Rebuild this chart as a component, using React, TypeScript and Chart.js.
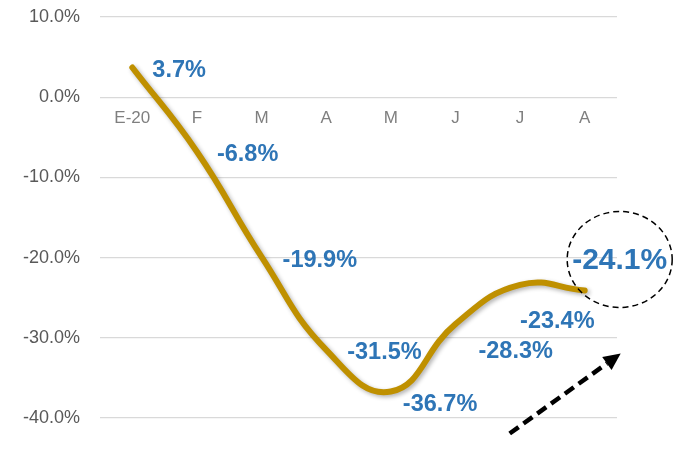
import React, { useEffect, useRef } from "react";
import { Chart, registerables } from "chart.js";

Chart.register(...registerables);

const categories = ["E-20", "F", "M", "A", "M", "J", "J", "A"];
const values = [3.7, -6.8, -19.9, -31.5, -36.7, -28.3, -23.4, -24.1];
const yTicks = [10, 0, -10, -20, -30, -40];

export default function App() {
  const ref = useRef<HTMLCanvasElement | null>(null);

  useEffect(() => {
    document.body.style.margin = "0";
    const canvas = ref.current;
    if (!canvas) return;

    // label offsets relative to point pixel: [dx of left edge, dy of center]
    const labelOffsets: [number, number][] = [
      [20, 3], [20, 3], [21, 4], [21, 3], [12, 13], [23, 27], [0, 37],
    ];

    const shadowPlugin = {
      id: "lineShadow",
      beforeDatasetsDraw(chart: any) {
        const ctx = chart.ctx;
        ctx.save();
        ctx.shadowColor = "rgba(0,0,0,0.3)";
        ctx.shadowBlur = 4;
        ctx.shadowOffsetX = 2;
        ctx.shadowOffsetY = 2;
      },
      afterDatasetsDraw(chart: any) {
        chart.ctx.restore();
      },
    };

    const labelPlugin = {
      id: "labels",
      afterDraw(chart: any) {
        const ctx = chart.ctx;
        const meta = chart.getDatasetMeta(0);
        ctx.save();
        ctx.fillStyle = "#2E75B6";
        ctx.textBaseline = "middle";
        const n = values.length;
        meta.data.forEach((pt: any, i: number) => {
          const txt = values[i].toFixed(1) + "%";
          if (i === n - 1) {
            const cx = pt.x + 35;
            const cy = pt.y - 31;
            ctx.font = "bold 30px 'Liberation Sans', Arial, sans-serif";
            ctx.textAlign = "center";
            ctx.fillText(txt, cx, cy + 1);
            // dashed ellipse
            ctx.beginPath();
            ctx.setLineDash([6, 4]);
            ctx.lineWidth = 1.5;
            ctx.strokeStyle = "#000";
            ctx.ellipse(cx, cy, 52.5, 48, 0, 0, Math.PI * 2);
            ctx.stroke();
            // dashed arrow
            const x0 = pt.x - 75, y0 = pt.y + 143;
            const x1 = pt.x + 36, y1 = pt.y + 63;
            const ang = Math.atan2(y1 - y0, x1 - x0);
            const headLen = 17;
            const bx = x1 - headLen * Math.cos(ang);
            const by = y1 - headLen * Math.sin(ang);
            ctx.beginPath();
            ctx.setLineDash([11, 6]);
            ctx.lineWidth = 4.5;
            ctx.moveTo(x0, y0);
            ctx.lineTo(bx, by);
            ctx.stroke();
            ctx.setLineDash([]);
            ctx.beginPath();
            ctx.fillStyle = "#000";
            ctx.moveTo(x1, y1);
            ctx.lineTo(bx + 8 * Math.sin(ang), by - 8 * Math.cos(ang));
            ctx.lineTo(bx - 8 * Math.sin(ang), by + 8 * Math.cos(ang));
            ctx.closePath();
            ctx.fill();
            ctx.fillStyle = "#2E75B6";
          } else {
            const [dx, dy] = labelOffsets[i];
            ctx.font = "bold 23.5px 'Liberation Sans', Arial, sans-serif";
            ctx.textAlign = "left";
            ctx.fillText(txt, pt.x + dx, pt.y + dy);
          }
        });
        ctx.restore();
      },
    };

    const chart = new Chart(canvas, {
      type: "line",
      data: {
        labels: categories,
        datasets: [
          {
            data: values,
            borderColor: "#BF9000",
            borderWidth: 6,
            borderCapStyle: "round",
            borderJoinStyle: "round",
            pointRadius: 0,
            tension: 0.45,
            fill: false,
          },
        ],
      },
      options: {
        responsive: false,
        animation: false,
        layout: { padding: { top: 17, right: 71, bottom: 32, left: 0 } },
        plugins: { legend: { display: false }, tooltip: { enabled: false } },
        scales: {
          x: {
            position: { y: 0 } as any,
            offset: true,
            grid: { display: false, drawTicks: false },
            border: { display: false },
            ticks: {
              color: "#7F7F7F",
              padding: 11,
              font: { family: "'Liberation Sans', Arial, sans-serif", size: 17 },
              maxRotation: 0,
              autoSkip: false,
            },
            afterFit(scale: any) {
              scale.height = 0;
              scale.paddingLeft = 0;
              scale.paddingRight = 0;
            },
          },
          y: {
            min: -40,
            max: 10,
            afterFit(scale: any) {
              scale.width = 100;
              scale.paddingTop = 0;
              scale.paddingBottom = 0;
            },
            afterBuildTicks(scale: any) {
              scale.ticks = yTicks.map((v) => ({ value: v }));
            },
            grid: { color: "#D9D9D9", lineWidth: 1.2, drawTicks: false },
            border: { display: false },
            ticks: {
              color: "#595959",
              padding: 20,
              font: { family: "'Liberation Sans', Arial, sans-serif", size: 18 },
              callback: (v: any) => Number(v).toFixed(1) + "%",
            },
          },
        },
      },
      plugins: [shadowPlugin, labelPlugin],
    });
    return () => chart.destroy();
  }, []);

  return (
    <div style={{ width: 688, height: 450, background: "#fff" }}>
      <canvas ref={ref} width={688} height={450} />
    </div>
  );
}
